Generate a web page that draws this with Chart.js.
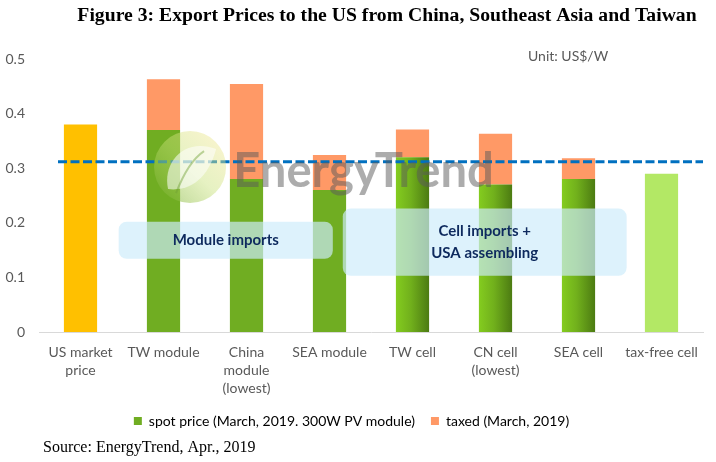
<!DOCTYPE html>
<html><head><meta charset="utf-8">
<script src="https://cdn.jsdelivr.net/npm/chart.js@4"></script>
<style>html,body{margin:0;padding:0;background:#fff}#wrap{width:716px;height:462px;position:relative}</style>
</head><body><div id="wrap"><canvas id="c" width="716" height="462"></canvas></div>
<script>
// ---- data ----
const categories = [['US market','price'], 'TW module', ['China','module','(lowest)'], 'SEA module', 'TW cell', ['CN cell','(lowest)'], 'SEA cell', 'tax-free cell'];
const spotPrice = [0.38, 0.37, 0.28, 0.26, 0.32, 0.27, 0.28, 0.29];
const taxedAdd = [null, 0.093, 0.174, 0.064, 0.051, 0.093, 0.038, null];
const barKinds = ['market', 'module', 'module', 'module', 'cell', 'cell', 'cell', 'free'];
const referencePrice = 0.312;
const yMin = 0, yMax = 0.5, yStep = 0.1;
const seriesNames = ['spot price (March, 2019. 300W PV module)', 'taxed (March, 2019)'];
const titleText = 'Figure 3: Export Prices to the US from China, Southeast Asia and Taiwan';
const unitText = 'Unit: US$/W';
const sourceText = 'Source: EnergyTrend, Apr., 2019';
const noteModule = ['Module imports'];
const noteCell = ['Cell imports +', 'USA assembling'];

// ---- styles ----
const COL = {market:'#FFC000', module:'#70AD22', cell:'#6DAA1B', free:'#B3E865', taxed:'#FF9966', ref:'#0070C0', text:'#595959'};
const FONT = 'Lato';
// annotation placement (in scale units)
const noteBoxes = [
  {lines: noteModule, from: 0.46, to: 3.04, top: 0.202, bottom: 0.134},
  {lines: noteCell, from: 3.16, to: 6.58, top: 0.226, bottom: 0.103}
];

const overlay = {
  id: 'overlay',
  beforeDatasetsDraw(chart) {
    const ctx = chart.ctx;
    const meta = chart.getDatasetMeta(0);
    meta.data.forEach((el, i) => {
      if (barKinds[i] !== 'cell') return;
      const {x, width} = el.getProps(['x', 'width'], true);
      const g = ctx.createLinearGradient(x - width / 2, 0, x + width / 2, 0);
      g.addColorStop(0, '#84CC1F');
      g.addColorStop(0.45, '#71B01C');
      g.addColorStop(1, '#4C7B12');
      el.options.backgroundColor = g;
    });
  },
  afterDatasetsDraw(chart) {
    const {ctx, chartArea, scales: {x, y}} = chart;
    ctx.save();
    // reference dashed line
    const ry = y.getPixelForValue(referencePrice);
    ctx.setLineDash([9, 3.5]);
    ctx.lineWidth = 3;
    ctx.strokeStyle = COL.ref;
    ctx.beginPath();
    ctx.moveTo(chartArea.left + 19, ry);
    ctx.lineTo(chartArea.right, ry);
    ctx.stroke();
    ctx.setLineDash([]);

    // watermark logo
    const cx = x.getPixelForValue(1.32), cy = y.getPixelForValue(0.302), r = 36;
    const g = ctx.createLinearGradient(cx - r, cy + r, cx + r, cy - r);
    g.addColorStop(0, 'rgba(110,170,40,0.55)');
    g.addColorStop(0.5, 'rgba(200,225,120,0.45)');
    g.addColorStop(1, 'rgba(250,232,150,0.45)');
    ctx.fillStyle = g;
    ctx.beginPath(); ctx.arc(cx, cy, r, 0, Math.PI * 2); ctx.fill();
    ctx.fillStyle = 'rgba(255,255,255,0.55)';
    ctx.beginPath();
    ctx.moveTo(cx - 22, cy + 22);
    ctx.bezierCurveTo(cx - 28, cy - 5, cx - 5, cy - 30, cx + 26, cy - 18);
    ctx.bezierCurveTo(cx + 20, cy + 5, cx + 5, cy + 25, cx - 22, cy + 22);
    ctx.fill();
    ctx.strokeStyle = 'rgba(110,160,50,0.45)';
    ctx.lineWidth = 2;
    ctx.beginPath();
    ctx.moveTo(cx - 14, cy + 26);
    ctx.bezierCurveTo(cx - 6, cy + 5, cx + 2, cy - 8, cx + 14, cy - 16);
    ctx.stroke();

    // watermark text
    const tx = x.getPixelForValue(1.84), ty = y.getPixelForValue(0.266);
    ctx.font = 'bold 48px ' + FONT;
    const tw = ctx.measureText('EnergyTrend').width;
    const targetW = x.getPixelForValue(4.98) - tx;
    ctx.translate(tx, ty);
    ctx.scale(targetW / tw, 1);
    ctx.fillStyle = 'rgba(90,90,90,0.5)';
    ctx.textBaseline = 'alphabetic';
    ctx.textAlign = 'left';
    ctx.fillText('EnergyTrend', 0, 0);
    ctx.setTransform(1, 0, 0, 1, 0, 0);

    // note boxes
    noteBoxes.forEach(b => {
      const l = x.getPixelForValue(b.from), rr = x.getPixelForValue(b.to);
      const t = y.getPixelForValue(b.top), bt = y.getPixelForValue(b.bottom);
      ctx.fillStyle = 'rgba(205,236,250,0.68)';
      ctx.beginPath();
      ctx.roundRect(l, t, rr - l, bt - t, 8);
      ctx.fill();
      ctx.fillStyle = '#0E2A5E';
      ctx.font = 'bold 15px ' + FONT;
      ctx.textAlign = 'center';
      ctx.textBaseline = 'middle';
      const lh = 22, mid = (t + bt) / 2, n = b.lines.length;
      b.lines.forEach((s, i) => ctx.fillText(s, (l + rr) / 2, mid + (i - (n - 1) / 2) * lh));
    });
    ctx.restore();
  },
  afterDraw(chart) {
    const {ctx} = chart;
    ctx.save();
    ctx.fillStyle = '#000';
    ctx.textBaseline = 'middle';
    ctx.textAlign = 'center';
    ctx.font = 'bold 18px "Liberation Serif"';
    const w18 = ctx.measureText(titleText).width;
    const fs = Math.round(18 * 620 / w18 * 10) / 10;
    ctx.font = 'bold ' + fs + 'px "Liberation Serif"';
    ctx.fillText(titleText, 387, 16);
    ctx.textAlign = 'left';
    ctx.font = '14px ' + FONT;
    ctx.fillStyle = COL.text;
    ctx.fillText(unitText, 528, 56);
    ctx.fillStyle = '#000';
    ctx.font = '16px "Liberation Serif"';
    ctx.fillText(sourceText, 43, 448);
    ctx.restore();
  }
};

new Chart(document.getElementById('c'), {
  type: 'bar',
  data: {
    labels: categories,
    datasets: [
      {label: seriesNames[0], data: spotPrice, backgroundColor: c => COL[barKinds[c.dataIndex]] || COL.module, barPercentage: 0.4, categoryPercentage: 1},
      {label: seriesNames[1], data: taxedAdd, backgroundColor: COL.taxed, barPercentage: 0.4, categoryPercentage: 1}
    ]
  },
  options: {
    responsive: false,
    animation: false,
    layout: {padding: {left: 0, right: 13, top: 59, bottom: 24}},
    scales: {
      x: {
        stacked: true,
        grid: {display: false, drawTicks: false},
        border: {display: true, color: '#D9D9D9', width: 1},
        ticks: {padding: 11, color: COL.text, font: {family: FONT, size: 14, lineHeight: 1.286}, maxRotation: 0, autoSkip: false},
        afterFit: s => { s.height = 66; s.paddingLeft = 0; s.paddingRight = 0; }
      },
      y: {
        stacked: true, min: yMin, max: yMax,
        grid: {display: false, drawTicks: false},
        border: {display: false},
        ticks: {stepSize: yStep, padding: 14, color: COL.text, font: {family: FONT, size: 14}},
        afterFit: s => { s.width = 39; }
      }
    },
    plugins: {
      title: {display: false},
      tooltip: {enabled: false},
      legend: {
        position: 'bottom',
        labels: {
          boxWidth: 8, boxHeight: 8, padding: 16, color: COL.text,
          font: {family: FONT, size: 14},
          generateLabels: () => [
            {text: seriesNames[0], fillStyle: COL.module, strokeStyle: COL.module, lineWidth: 0, datasetIndex: 0, hidden: false},
            {text: seriesNames[1], fillStyle: COL.taxed, strokeStyle: COL.taxed, lineWidth: 0, datasetIndex: 1, hidden: false}
          ]
        }
      }
    }
  },
  plugins: [overlay]
});
</script>
</body></html>
